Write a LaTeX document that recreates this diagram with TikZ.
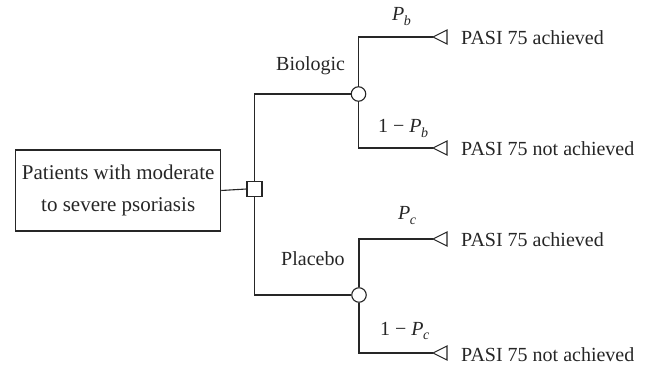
\documentclass[tikz,border=0pt]{standalone}
\usepackage{fontspec}
\setmainfont{Liberation Serif}
\newcommand\probof[1]{\textit{P}\kern-0.6pt\raisebox{-0.24em}{\fontsize{14}{14}\selectfont\textit{#1}}}
\begin{document}
\begin{tikzpicture}[x=1pt,y=-1pt,
  every node/.style={text=black!85},
  wire/.style={draw=black!85,line width=1.1pt},
  lbl/.style={anchor=base west,inner sep=0pt,font=\fontsize{20}{24}\selectfont},
  startbox/.style={draw=black!85,line width=1.1pt,minimum width=205pt,minimum height=81pt,
    inner sep=0pt,align=center,font=\fontsize{21}{32}\selectfont},
  decision/.style={draw=black!85,line width=1.1pt,fill=white,minimum size=15pt,inner sep=0pt},
  chance/.style={circle,draw=black!85,line width=1.1pt,fill=white,minimum size=14.5pt,inner sep=0pt},
  endtri/.style={draw=black!85,line width=1.1pt,line join=miter}
]
\useasboundingbox (0,0) rectangle (651,366);

% root and decision
\node[startbox] (root) at (118.2,190.5) {Patients with moderate\\to severe psoriasis};
\node[decision] (dec) at (254.5,189) {};

% chance nodes
\node[chance] (bio) at (358.5,94) {};
\node[chance] (pla) at (359,295) {};

% terminal tips
\coordinate (t1) at (433,37);
\coordinate (t2) at (433,148);
\coordinate (t3) at (433,239);
\coordinate (t4) at (433,353);

% connectors
\draw[wire] (root.east) -- (dec.west);
\draw[wire] (dec.north) |- (bio.west);
\draw[wire] (dec.south) |- (pla.west);
\draw[wire] (bio.north) |- (t1);
\draw[wire] (bio.south) |- (t2);
\draw[wire] (pla.north) |- (t3);
\draw[wire] (pla.south) |- (t4);

% terminal triangles
\foreach \t in {t1,t2,t3,t4}
  \draw[endtri] (\t) -- ++(14,-7) -- ++(0,14) -- cycle;

% branch labels
\node[lbl] (lb) at (276,71) {Biologic};
\node[lbl] (lp) at (281,266) {Placebo};
\node[lbl] (pb) at (392,21) {\probof{b}};
\node[lbl] (qb) at (378,133) {1 − \probof{b}};
\node[lbl] (pc) at (398,220) {\probof{c}};
\node[lbl] (qc) at (380,335) {1 − \probof{c}};

% outcomes
\node[lbl] (o1) at (461,45) {PASI 75 achieved};
\node[lbl] (o2) at (461,156) {PASI 75 not achieved};
\node[lbl] (o3) at (461,247) {PASI 75 achieved};
\node[lbl] (o4) at (461,361) {PASI 75 not achieved};
\end{tikzpicture}
\end{document}
